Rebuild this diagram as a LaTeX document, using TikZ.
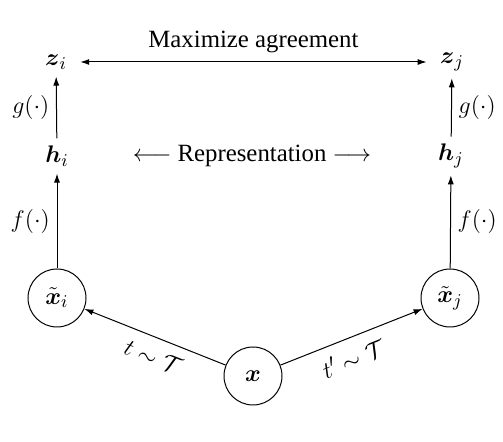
\documentclass[tikz,border=0pt]{standalone}
\usepackage{amsmath,amssymb}
\usepackage{fontspec}
\setmainfont{Liberation Serif}
\usetikzlibrary{positioning,arrows.meta}
\tikzset{
  vec/.style={inner sep=3.5pt},
  view/.style={circle,draw,line width=0.5pt,minimum size=29pt,inner sep=0pt},
  flow/.style={-{Latex[length=4.5pt,width=3pt]},line width=0.5pt},
}
\begin{document}
\begin{tikzpicture}[x=0.5pt,y=0.5pt,font=\fontsize{12.4}{15}\selectfont]
            \useasboundingbox (0,0) rectangle (503,442);
            % input and its two views
            \node[view] (x) at (253,66) {$\boldsymbol{x}$};
            \node[view] (xi) at (57,144) {$\tilde{\boldsymbol{x}}_i$};
            \node[view] (xj) at (450,144) {$\tilde{\boldsymbol{x}}_j$};
            % representations and projections
            \node[vec] (hi) at (57,286) {$\boldsymbol{h}_i$};
            \node[vec] (hj) at (451,286) {$\boldsymbol{h}_j$};
            \node[vec] (zi) at (56,380) {$\boldsymbol{z}_i$};
            \node[vec] (zj) at (452,380) {$\boldsymbol{z}_j$};
            \node (rep) at (252,286)
                {$\longleftarrow$ Representation $\longrightarrow$};
            \draw[flow] (x) -- node[below=2pt,sloped,pos=0.46]
                {$t\sim\mathcal{T}$} (xi);
            \draw[flow] (x) -- node[below=2pt,sloped,pos=0.46]
                {$t'\sim\mathcal{T}$} (xj);
            \draw[flow] (xi) -- node[left] {$f(\cdot)$} (hi);
            \draw[flow] (xj) -- node[right] {$f(\cdot)$} (hj);
            \draw[flow] (hi) -- node[left] {$g(\cdot)$} (zi);
            \draw[flow] (hj) -- node[right] {$g(\cdot)$} (zj);
            \draw[flow,{Latex[length=4.5pt,width=3pt]}-{Latex[length=4.5pt,width=3pt]},
                shorten <=3pt,shorten >=3pt]
                (zi) -- node[above=1pt] {Maximize agreement} (zj);
        \end{tikzpicture}
\end{document}
